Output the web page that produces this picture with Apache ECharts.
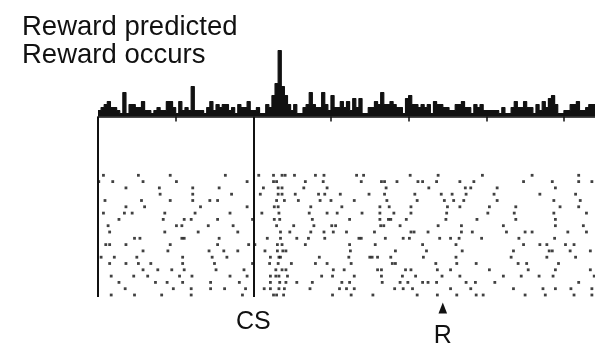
<!DOCTYPE html>
<html>
<head>
<meta charset="utf-8">
<script src="https://cdn.jsdelivr.net/npm/echarts@6/dist/echarts.min.js"></script>
<style>
    html, body { margin: 0; padding: 0; background: #fff; }
    #main { width: 595px; height: 346px; }
</style>
</head>
<body>
<div id="main"></div>
<script>
// time in ms relative to the CS, 20 ms bins starting at -1000 ms
var binStart = -1000;
var binWidth = 20;
var histCounts = [
    2, 3, 4, 5, 3, 3, 2, 1, 8, 1, 4, 4, 3, 3, 5, 2, 2, 1, 2, 3,
    2, 2, 5, 5, 3, 1, 5, 2, 3, 2, 10, 2, 2, 2, 1, 3, 5, 2, 4, 3,
    4, 4, 2, 3, 1, 4, 3, 3, 5, 2, 2, 3, 1, 1, 4, 3, 7, 11, 22, 10,
    7, 4, 2, 4, 1, 1, 3, 4, 8, 4, 3, 3, 8, 4, 2, 7, 3, 3, 5, 3,
    5, 2, 6, 3, 6, 1, 1, 3, 3, 5, 4, 8, 4, 4, 5, 4, 3, 3, 1, 6,
    7, 4, 4, 3, 4, 3, 4, 1, 5, 4, 4, 3, 3, 2, 2, 4, 4, 5, 3, 3,
    1, 4, 3, 4, 2, 2, 2, 2, 2, 1, 3, 1, 1, 3, 5, 3, 3, 5, 3, 3,
    1, 4, 2, 5, 3, 6, 7, 4, 1, 1, 2, 2, 4, 4, 5, 2, 2, 3, 4, 4
];
var tickValues = [-1000, -500, 0, 500, 1000, 1500, 2000];
var csTime = 0;
var rewardTime = 1220;

// spike times of each trial (ms)
var trials = [
    [-965, -740, -535, -180, 35, 130, 185, 205, 265, 400, 455, 665, 710, 1010, 1190, 1475, 1795, 2095],
    [-995, -905, -710, -495, -40, 130, 150, 335, 450, 695, 825, 845, 925, 1060, 1090, 1180, 1330, 1420, 1740, 1925, 2095, 2180],
    [-820, -605, -390, -220, 65, 160, 185, 325, 475, 855, 1130, 1365, 1400, 1570, 1945],
    [-600, -390, -140, 45, 160, 185, 270, 420, 460, 560, 745, 845, 1040, 1210, 1280, 1370, 1550, 1845, 2075],
    [-955, -720, -535, -390, -280, -230, 150, 200, 290, 430, 500, 650, 860, 1055, 1230, 1290, 1355, 1570, 1935, 2105],
    [-820, -700, -340, -40, 135, 160, 370, 570, 815, 875, 1015, 1250, 1330, 1520, 1690, 1975, 2095],
    [-965, -830, -780, -570, -375, -150, 55, 165, 360, 475, 540, 700, 815, 905, 1015, 1245, 1510, 1680, 1935, 2145],
    [-865, -580, -445, -400, -230, -5, 135, 170, 380, 620, 815, 870, 885, 985, 1240, 1440, 1690, 1945],
    [-935, -495, -460, -290, -130, 150, 260, 390, 505, 530, 820, 840, 945, 1190, 1340, 1610, 1945, 2125],
    [-925, -570, -355, -100, 175, 235, 370, 455, 515, 600, 780, 1015, 1035, 1125, 1340, 1410, 1630, 1750, 1795, 2025, 2145],
    [-765, -730, -460, -445, -220, 90, 175, 280, 355, 460, 680, 695, 850, 965, 1005, 1200, 1270, 1325, 1470, 1710, 1940],
    [-950, -925, -820, -535, -230, -30, 10, 155, 185, 335, 620, 785, 1090, 1305, 1740, 1845, 1890, 2010, 2065],
    [-710, -550, -285, -190, -100, 75, 155, 190, 210, 625, 915, 1115, 1345, 1675, 1905, 1925, 2040, 2170],
    [-980, -895, -750, -455, -265, -170, 110, 165, 175, 425, 615, 750, 765, 800, 885, 1095, 1305, 1660, 1890, 2075],
    [-925, -820, -740, -660, -455, -250, -5, 105, 160, 245, 400, 475, 630, 895, 915, 1175, 1310, 1435, 1705, 1760, 1965],
    [-710, -615, -525, -445, -240, -60, 145, 185, 210, 515, 585, 800, 825, 980, 1015, 1185, 1270, 1520, 1770, 1945, 2170],
    [-915, -770, -680, -475, -395, -150, -40, 110, 145, 165, 220, 440, 510, 650, 825, 960, 1045, 1215, 1330, 1610, 1725, 1840, 1930, 2195],
    [-865, -630, -555, -455, -275, -90, 110, 170, 210, 280, 380, 570, 620, 830, 945, 995, 1090, 1125, 1180, 1370, 1430, 1555, 2095],
    [-825, -515, -400, -275, -185, -50, 70, 110, 165, 200, 365, 555, 600, 650, 910, 965, 1025, 1270, 1400, 1675, 1865, 1945, 2045, 2180],
    [-915, -765, -590, -400, -70, 130, 150, 195, 510, 630, 770, 1055, 1185, 1310, 1435, 1480, 1750, 1880, 2065, 2180]
];

var ink = '#111';
var font = '"Liberation Sans", Arial, Helvetica, sans-serif';

var histData = histCounts.map(function (c, i) {
    return [binStart + i * binWidth, c];
});
histData.push([binStart + histCounts.length * binWidth, histCounts[histCounts.length - 1]]);

var spikeData = [];
trials.forEach(function (times, row) {
    times.forEach(function (t) {
        spikeData.push([t, row]);
    });
});

// raster rows: first row 58px below the histogram baseline, 6.3px apart
var rowPitch = 6.3;
var rasterTop = 117, rasterHeight = 180;
var rowMin = -58.3 / rowPitch;
var rowMax = rowMin + rasterHeight / rowPitch;

var myChart = echarts.init(document.getElementById('main'), null, {renderer: 'canvas'});
var option = {
    backgroundColor: '#fff',
    animation: false,
    grid: [
        {left: 98, right: 0, top: 44.5, height: 72},
        {left: 98, right: 0, top: rasterTop, height: rasterHeight}
    ],
    xAxis: [
        {
            type: 'value', gridIndex: 0, min: -1000, max: 2200,
            axisLine: {show: true, lineStyle: {color: ink, width: 1.5}},
            axisTick: {show: true, length: 5, customValues: tickValues, lineStyle: {color: ink, width: 1.5}},
            axisLabel: {show: false},
            splitLine: {show: false}
        },
        {
            type: 'value', gridIndex: 1, min: -1000, max: 2200, show: false
        }
    ],
    yAxis: [
        {type: 'value', gridIndex: 0, min: 0, max: 24, show: false},
        {type: 'value', gridIndex: 1, min: rowMin, max: rowMax, inverse: true, show: false}
    ],
    series: [
        {
            type: 'line',
            xAxisIndex: 0, yAxisIndex: 0,
            step: 'end',
            symbol: 'none',
            lineStyle: {color: ink, width: 1.2},
            areaStyle: {color: ink, opacity: 1},
            data: histData
        },
        {
            type: 'scatter',
            xAxisIndex: 1, yAxisIndex: 1,
            symbol: 'rect',
            symbolSize: 2.8,
            itemStyle: {color: ink},
            data: spikeData,
            markLine: {
                silent: true,
                symbol: 'none',
                label: {show: false},
                lineStyle: {color: ink, width: 2, type: 'solid'},
                data: [{xAxis: -1000}, {xAxis: csTime}]
            }
        }
    ]
};
myChart.setOption(option);

var csX = myChart.convertToPixel({xAxisIndex: 1}, csTime);
var rX = myChart.convertToPixel({xAxisIndex: 1}, rewardTime);
myChart.setOption({
    graphic: [
        {type: 'text', left: 22, top: 13, style: {text: 'Reward predicted', font: '27.5px ' + font, fill: ink}},
        {type: 'text', left: 22, top: 41.5, style: {text: 'Reward occurs', font: '27.5px ' + font, fill: ink}},
        {type: 'text', x: csX, y: 322, style: {text: 'CS', font: '25px ' + font, fill: ink, textAlign: 'center', textVerticalAlign: 'middle', align: 'center', verticalAlign: 'middle'}},
        {type: 'polygon', shape: {points: [[rX, 302.5], [rX - 4.3, 313.5], [rX + 4.3, 313.5]]}, style: {fill: ink}},
        {type: 'text', x: rX, y: 336.5, style: {text: 'R', font: '25px ' + font, fill: ink, textAlign: 'center', textVerticalAlign: 'middle', align: 'center', verticalAlign: 'middle'}}
    ]
});
</script>
</body>
</html>
